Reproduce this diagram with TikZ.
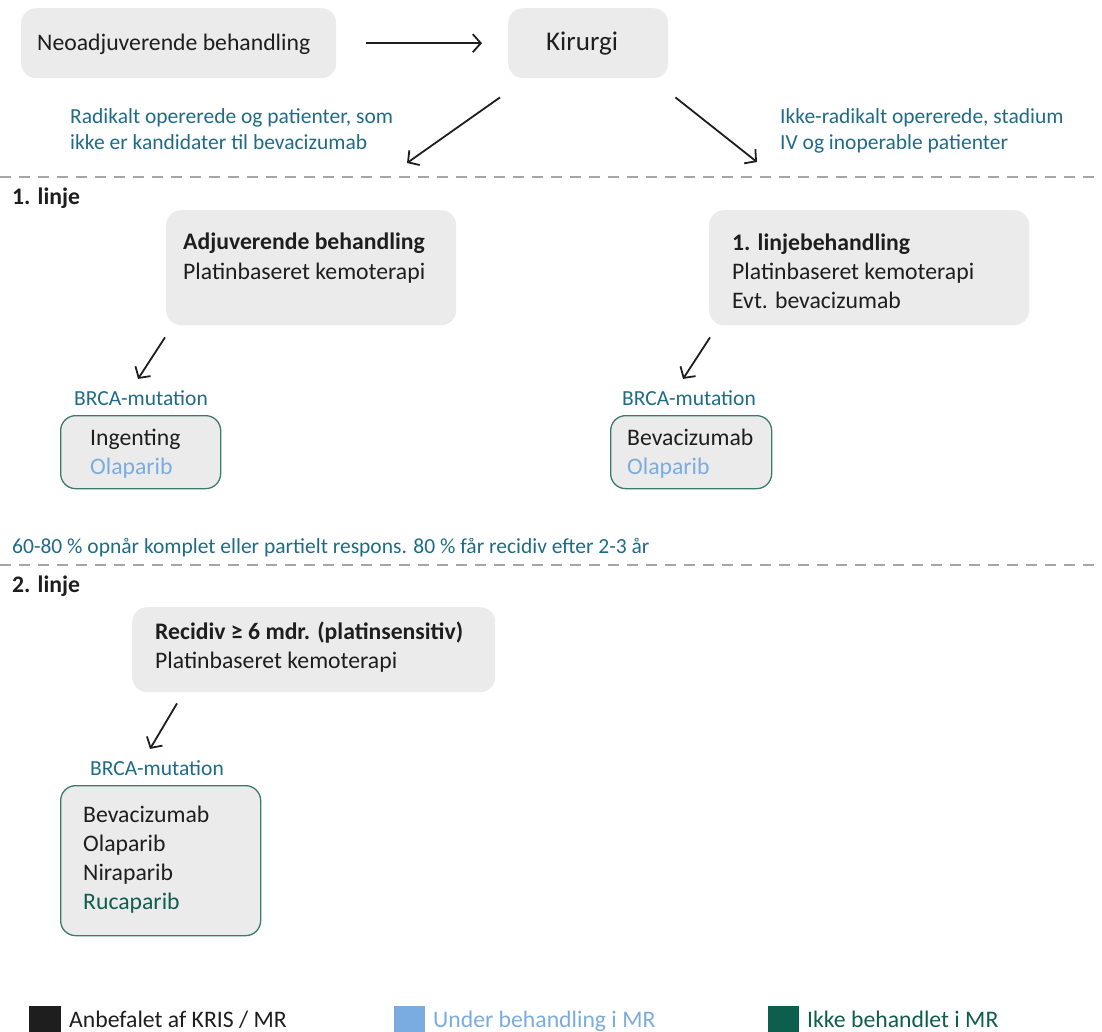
\documentclass[tikz,border=0pt]{standalone}
\usepackage{fontspec}
\setmainfont{Carlito}
\usepackage{xcolor}
\definecolor{boxgray}{HTML}{EBEBEB}
\definecolor{ink}{HTML}{1E1E1E}
\definecolor{noteblue}{HTML}{1F6B87}
\definecolor{trialblue}{HTML}{7AACDF}
\definecolor{untested}{HTML}{0E5E4E}
\definecolor{mutborder}{HTML}{3B7A6D}
\definecolor{sepgray}{HTML}{A6A6A6}
\usetikzlibrary{arrows.meta,positioning}
\newcommand{\bodysize}{\fontsize{23.7}{29}\selectfont}
\newcommand{\notesize}{\fontsize{21.5}{26}\selectfont}
\tikzset{
	gbox/.style={fill=boxgray, rounded corners=15pt, inner sep=0pt, anchor=north west},
	mutbox/.style={gbox, draw=mutborder, line width=1.3pt},
	txt/.style={inner sep=0pt, anchor=base west, align=left, text=ink, font=\bodysize},
	note/.style={txt, text=noteblue, font=\notesize},
	arr/.style={draw=ink, line width=1.8pt, -{Straight Barb[length=8pt,width=18pt,line width=1.8pt]}},
	sepline/.style={draw=sepgray, line width=1.2pt, dash pattern=on 11pt off 8pt}
}

\begin{document}
\begin{tikzpicture}[x=1pt, y=-1pt]
	\useasboundingbox (0,0) rectangle (1102,1032);
	% top row (multi-line texts are placed by their last baseline)
	\node [gbox, minimum width=315, minimum height=70] (neo) at (21,8) {};
	\node [txt] (neotxt) at (37,51) {Neoadjuverende behandling};
	\node [gbox, minimum width=160, minimum height=70] (kir) at (508,8) {};
	\node [txt, font=\fontsize{27}{32}\selectfont] (kirtxt) at (546,51) {Kirurgi};
	\draw [arr] ([xshift=30]neo.east) -- ([xshift=-26]kir.west);
	\coordinate (radend) at (407,163);
	\coordinate (ikkeend) at (757,162);
	\draw [arr] ([shift={(-8,19)}]kir.south west) -- (radend);
	\draw [arr] ([shift={(7,19)}]kir.south east) -- (ikkeend);
	\node [note] (radnote) at (70,150) {Radikalt opererede og patienter, som\\ikke er kandidater til bevacizumab};
	\node [note] (ikkenote) at (780,150) {Ikke-radikalt opererede, stadium\\IV og inoperable patienter};
	\draw [sepline] (0,177) -- (1102,177);
	% 1. linje
	\node [txt, font=\bodysize\bfseries] (linje1) at (12,205) {1. linje};
	\node [gbox, minimum width=290, minimum height=115] (adj) at (166,210) {};
	\node [txt] (adjtxt) at (183,279) {\textbf{Adjuverende behandling}\\Platinbaseret kemoterapi};
	\node [gbox, minimum width=320, minimum height=115] (first) at (709,210) {};
	\node [txt] (firsttxt) at (732,308) {\textbf{1. linjebehandling}\\Platinbaseret kemoterapi\\Evt. bevacizumab};
	\node [note, anchor=base] (brcaA) at (141,405) {BRCA-mutation};
	\node [note, anchor=base] (brcaB) at (689,405) {BRCA-mutation};
	\draw [arr] ([shift={(-1,12)}]adj.south west) -- ([shift={(-3,-11)}]brcaA.north);
	\draw [arr] ([shift={(1,12)}]first.south west) -- ([shift={(-6,-11)}]brcaB.north);
	\node [mutbox, minimum width=160, minimum height=73] (mutA) at (60,415) {};
	\node [txt] (mutAtxt) at (90,474) {Ingenting\\\textcolor{trialblue}{Olaparib}};
	\node [mutbox, minimum width=161, minimum height=73] (mutB) at (610,415) {};
	\node [txt] (mutBtxt) at (627,474) {Bevacizumab\\\textcolor{trialblue}{Olaparib}};
	\node [note] (respons) at (12,553) {60-80 \% opnår komplet eller partielt respons. 80 \% får recidiv efter 2-3 år};
	\draw [sepline] (0,565) -- (1102,565);
	% 2. linje
	\node [txt, font=\bodysize\bfseries] (linje2) at (12,592) {2. linje};
	\node [gbox, minimum width=363, minimum height=85] (rec) at (132,607) {};
	\node [txt] (rectxt) at (155,668) {\textbf{Recidiv ≥ 6 mdr. (platinsensitiv)}\\Platinbaseret kemoterapi};
	\node [note, anchor=base] (brcaC) at (157,775) {BRCA-mutation};
	\draw [arr] ([shift={(45,11)}]rec.south west) -- ([shift={(-7,-11)}]brcaC.north);
	\node [mutbox, minimum width=200, minimum height=150] (mutC) at (60,785) {};
	\node [txt] (mutCtxt) at (83,909) {Bevacizumab\\Olaparib\\Niraparib\\\textcolor{untested}{Rucaparib}};
	% legend
	\fill [ink] (29,1006) rectangle (61,1032);
	\node [txt] (legA) at (69,1027) {Anbefalet af KRIS / MR};
	\fill [trialblue] (394,1006) rectangle (425,1032);
	\node [txt, text=trialblue] (legB) at (433,1027) {Under behandling i MR};
	\fill [untested] (768,1006) rectangle (799,1032);
	\node [txt, text=untested] (legC) at (807,1027) {Ikke behandlet i MR};
\end{tikzpicture}
\end{document}
